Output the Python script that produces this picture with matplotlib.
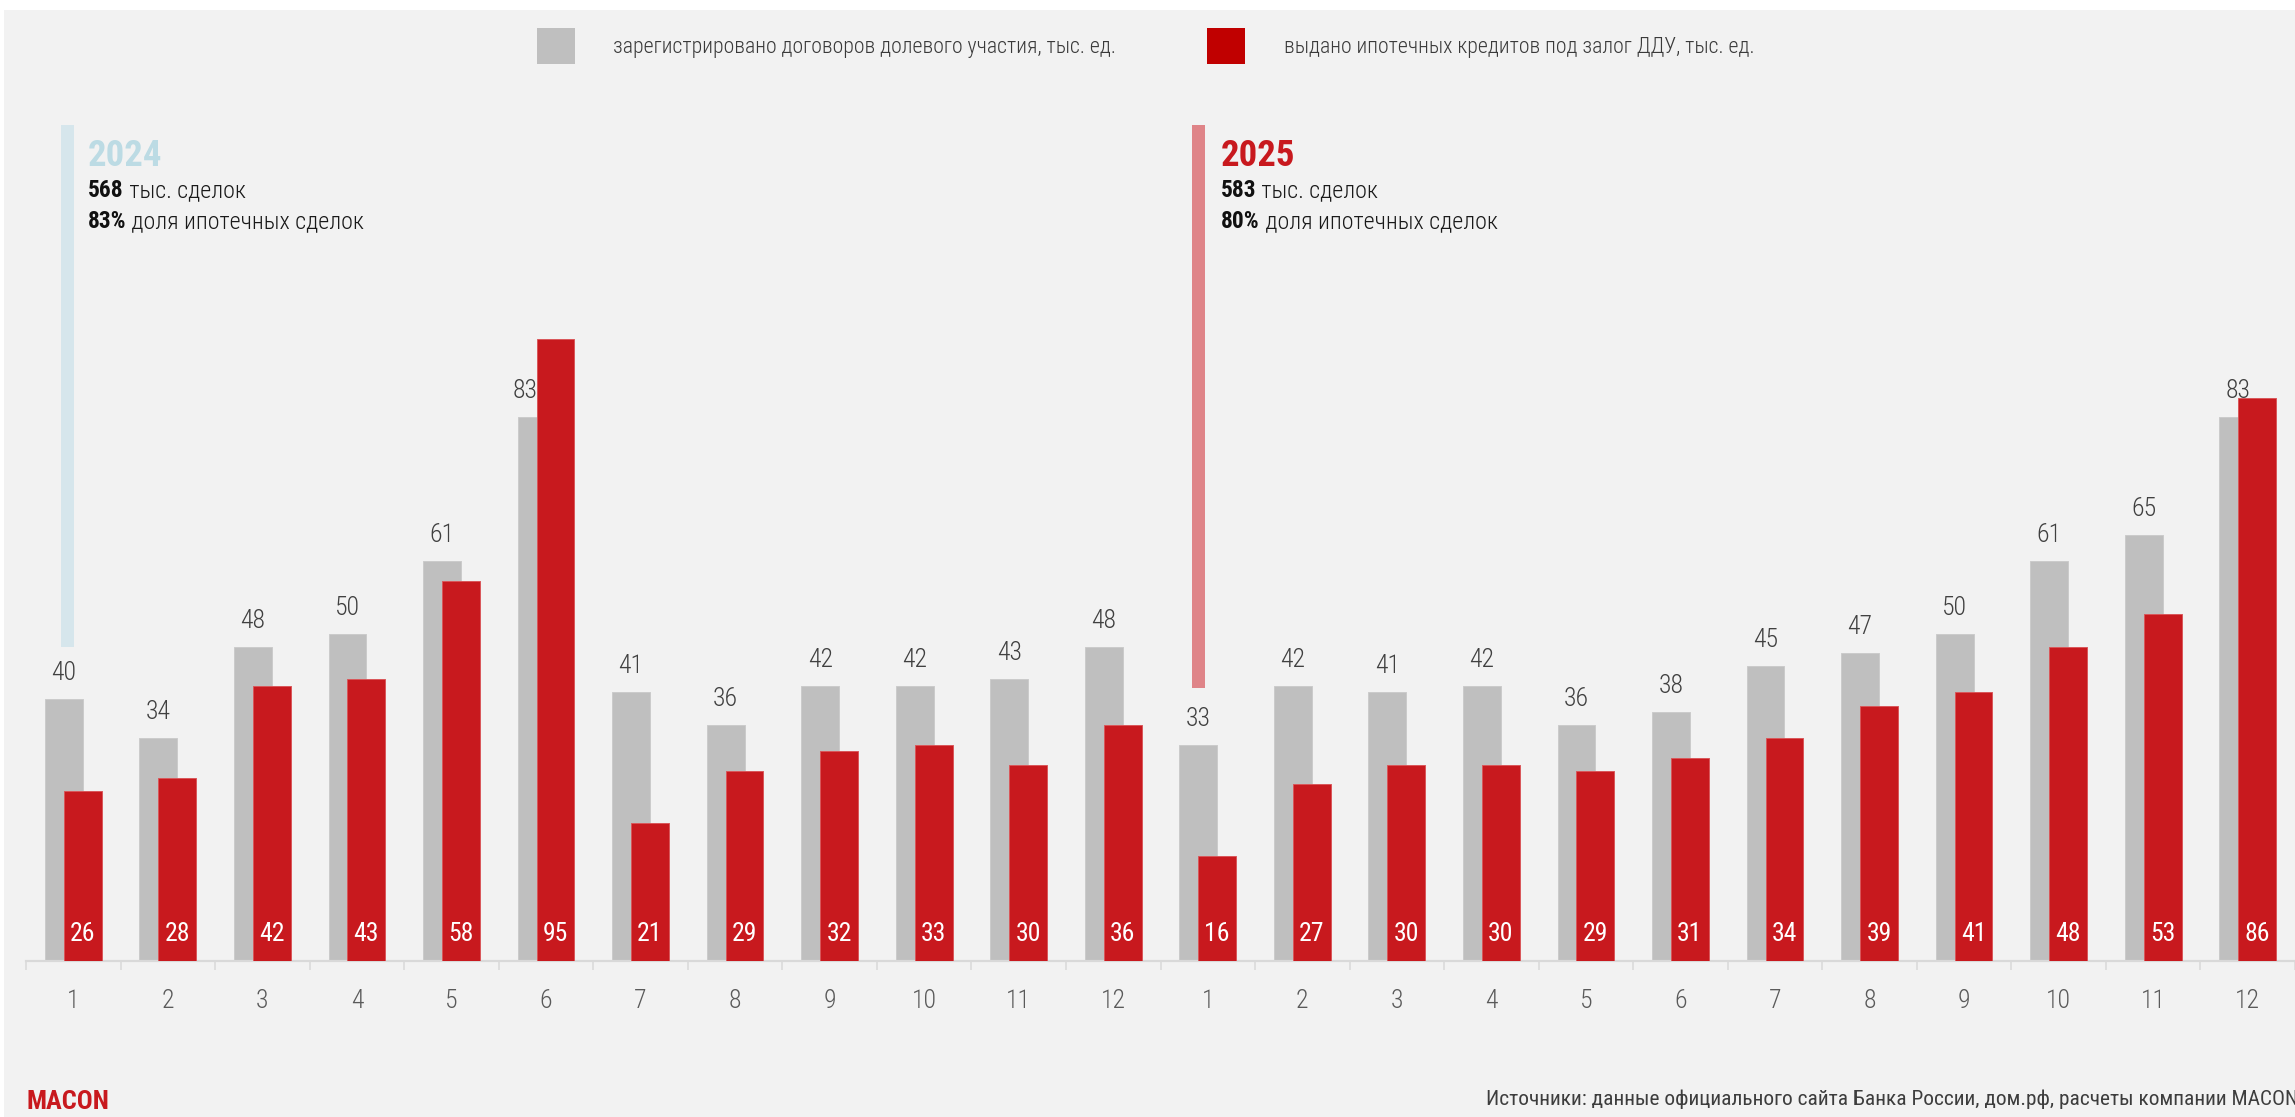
import numpy as np
import matplotlib
matplotlib.use('Agg')
import matplotlib.pyplot as plt
from matplotlib import font_manager
from matplotlib.patches import Rectangle

# ---------------- data ----------------
months = ['1', '2', '3', '4', '5', '6', '7', '8', '9', '10', '11', '12',
          '1', '2', '3', '4', '5', '6', '7', '8', '9', '10', '11', '12']
registered = [40, 34, 48, 50, 61, 83, 41, 36, 42, 42, 43, 48,
              33, 42, 41, 42, 36, 38, 45, 47, 50, 61, 65, 83]
mortgage = [26, 28, 42, 43, 58, 95, 21, 29, 32, 33, 30, 36,
            16, 27, 30, 30, 29, 31, 34, 39, 41, 48, 53, 86]
legend_labels = ['зарегистрировано договоров долевого участия, тыс. ед.',
                 'выдано ипотечных кредитов под залог ДДУ, тыс. ед.']
years = ['2024', '2025']
deals = ['568', '583']
shares = ['83%', '80%']
deals_text = ' тыс. сделок'
share_text = ' доля ипотечных сделок'
source = 'Источники: данные официального сайта Банка России, дом.рф, расчеты компании MACON'
brand = 'MACON'

# ---------------- fonts ----------------
names = {f.name for f in font_manager.fontManager.ttflist}
main_font = None
for cand in ['Liberation Sans Narrow', 'Roboto Condensed', 'Open Sans Condensed', 'Liberation Sans']:
    if cand in names:
        main_font = cand
        break
if main_font is None:
    main_font = 'DejaVu Sans'
plt.rcParams['font.family'] = [main_font, 'DejaVu Sans']
LIGHT = 'light'

# ---------------- colors ----------------
BG = '#f2f2f2'
GRAY = '#bfbfbf'
RED = '#c8191e'
AXIS = '#d9d9d9'

W, H = 2295, 1117
fig = plt.figure(figsize=(W / 100, H / 100), dpi=100, facecolor='white')

def fx(px):
    return px / W

def fy(py):
    return 1 - py / H

# background panel (thin white border at top and left)
fig.patches.append(Rectangle((fx(4), 0), 1 - fx(4), 1 - 10 / H,
                             transform=fig.transFigure, facecolor=BG,
                             edgecolor='none', zorder=-5))

# axes: x in groups, y in thousands
PX_PER_UNIT = 6.55
BASE_PX = 961
left_px = 26
ax = fig.add_axes([fx(left_px), (H - BASE_PX) / H, (W - left_px) / W, BASE_PX / H])
ax.set_facecolor('none')
ax.set_zorder(1)
n = len(months)
x = np.arange(1, n + 1)
ax.set_xlim(0.5, n + 0.5)
ax.set_ylim(0, BASE_PX / PX_PER_UNIT)

# bars
ax.bar(x - 0.1, registered, width=0.4, color=GRAY, edgecolor='#cbcbcb',
       linewidth=0.7, zorder=2)
ax.bar(x + 0.1, mortgage, width=0.4, color=RED, edgecolor='#d9575a',
       linewidth=0.7, zorder=4)

# value labels
for xi, v, m in zip(x, registered, mortgage):
    if m > v + 4:
        # red bar would cover the label: shift it to the left of the red bar
        ax.text(xi - 0.085, v + 2.9, str(v), ha='right', va='baseline',
                fontsize=18.5, color='#404040', fontweight=LIGHT, zorder=3)
    else:
        ax.text(xi - 0.1, v + 2.9, str(v), ha='center', va='baseline',
                fontsize=18.5, color='#404040', fontweight=LIGHT, zorder=3)
for xi, v in zip(x, mortgage):
    ax.text(xi + 0.1, 3.0, str(v), ha='center', va='baseline',
            fontsize=18.5, color='white', zorder=5)

# year accent bars
year_bar_x = [0.944, 12.902]
year_bar_bottom = [47.9, 41.7]
year_bar_top = (BASE_PX - 125) / PX_PER_UNIT
year_bar_colors = ['#d6e6ec', '#df8488']
for bx, bb, bc in zip(year_bar_x, year_bar_bottom, year_bar_colors):
    ax.bar(bx, year_bar_top - bb, bottom=bb, width=0.1375, color=bc,
           linewidth=0, zorder=1)

# axis styling
for s in ['top', 'right', 'left']:
    ax.spines[s].set_visible(False)
ax.spines['bottom'].set_color(AXIS)
ax.spines['bottom'].set_linewidth(1.6)
ax.set_yticks([])
ax.set_xticks(np.arange(0.5, n + 1.5, 1.0))
ax.set_xticklabels([])
ax.tick_params(axis='x', which='major', length=6.5, width=1.1, color=AXIS,
               direction='out')
ax.set_xticks(x, minor=True)
ax.set_xticklabels(months, minor=True, fontweight=LIGHT)
ax.tick_params(axis='x', which='minor', length=0, pad=20, labelsize=18.5,
               labelcolor='#5a5a5a')

# legend
leg_sq = [(537, GRAY), (1207, '#c00000')]
leg_txt_x = [613, 1284]
for (sx, sc), tx, lab in zip(leg_sq, leg_txt_x, legend_labels):
    fig.patches.append(Rectangle((fx(sx), fy(64)), 38 / W, 36 / H,
                                 transform=fig.transFigure, facecolor=sc,
                                 edgecolor='none', zorder=2))
    fig.text(fx(tx), fy(53), lab, ha='left', va='baseline', fontsize=15.7,
             color='#3a3a3a', fontweight=LIGHT)

# year summaries
renderer = fig.canvas.get_renderer()
year_x = [88, 1221]
year_colors = ['#bcdbe4', RED]
for yx, yl, yc, d, s in zip(year_x, years, year_colors, deals, shares):
    fig.text(fx(yx), fy(166), yl, ha='left', va='baseline', fontsize=26.5,
             fontweight='bold', color=yc)
    for val, txt, by in [(d, deals_text, 197), (s, share_text, 228)]:
        t = fig.text(fx(yx), fy(by), val, ha='left', va='baseline',
                     fontsize=16.8, fontweight='bold', color='#111111')
        bb = t.get_window_extent(renderer)
        fig.text(bb.x1 / W, fy(by), txt, ha='left', va='baseline',
                 fontsize=17.3, color='#1a1a1a', fontweight=LIGHT)

# footer
fig.text(fx(26), fy(1109), brand, ha='left', va='baseline', fontsize=19,
         fontweight='bold', color=RED)
fig.text(fx(2298), fy(1105), source, ha='right', va='baseline', fontsize=15.4,
         color='#3d3d3d')

fig.savefig('out.png', dpi=100, facecolor='white')
